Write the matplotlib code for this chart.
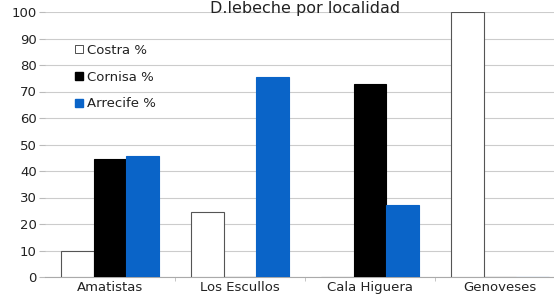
import matplotlib

matplotlib.use("Agg")
import matplotlib.pyplot as plt
import numpy as np
from matplotlib.patches import Patch

localidades = ["Amatistas", "Los Escullos", "Cala Higuera", "Genoveses"]
costra = [10, 24.5, 0, 100]
cornisa = [44.5, 0, 73, 0]
arrecife = [45.5, 75.5, 27, 0]
series_names = ["Costra %", "Cornisa %", "Arrecife %"]
y_ticks = [0, 10, 20, 30, 40, 50, 60, 70, 80, 90, 100]

BLUE = "#0a64c8"
TXT = "#222222"

fig = plt.figure(figsize=(5.54, 2.95), dpi=100)
# axes runs past the right edge, the reference is cropped there
ax = fig.add_axes([45 / 554, 18 / 295, 520 / 554, 265 / 295])

x = np.arange(len(localidades))
w = 0.25
ax.bar(x - w, costra, w, color="white", edgecolor="#555555", linewidth=0.8, zorder=3)
ax.bar(x, cornisa, w, color="black", edgecolor="black", linewidth=0.8, zorder=3)
ax.bar(x + w, arrecife, w, color=BLUE, edgecolor=BLUE, linewidth=0.8, zorder=3)

ax.set_xlim(-0.5, len(localidades) - 0.5)
ax.set_ylim(0, 100)
ax.set_yticks(y_ticks)
ax.set_xticks(x)
ax.set_xticklabels(localidades)
ax.set_xticks(np.arange(0.5, len(localidades) - 0.5), minor=True)
ax.tick_params(axis="x", which="major", length=0, pad=3, labelsize=9.5, labelcolor=TXT)
ax.tick_params(axis="x", which="minor", length=3, color="#bbbbbb", direction="out")
ax.tick_params(axis="y", length=4, color="#bbbbbb", pad=2, labelsize=9.5, labelcolor=TXT)
ax.yaxis.grid(True, color="#cccccc", linewidth=0.8, zorder=0)
for s in ["top", "right", "left"]:
    ax.spines[s].set_visible(False)
ax.spines["bottom"].set_color("#aaaaaa")

# title hugs the top edge like the reference
fig.text(305 / 554, 0.998, "D.lebeche por localidad", fontsize=11.5, color=TXT,
         ha="center", va="top")

handles = [
    Patch(facecolor="white", edgecolor="#333333", linewidth=0.6),
    Patch(facecolor="black", edgecolor="black"),
    Patch(facecolor=BLUE, edgecolor=BLUE),
]
ax.legend(handles, series_names, loc="upper left", bbox_to_anchor=(0.035, 0.925),
          frameon=False, fontsize=9.5, handlelength=0.6, handleheight=0.6,
          handletextpad=0.3, labelspacing=1.05, labelcolor=TXT)

fig.savefig("out.png", dpi=100)
